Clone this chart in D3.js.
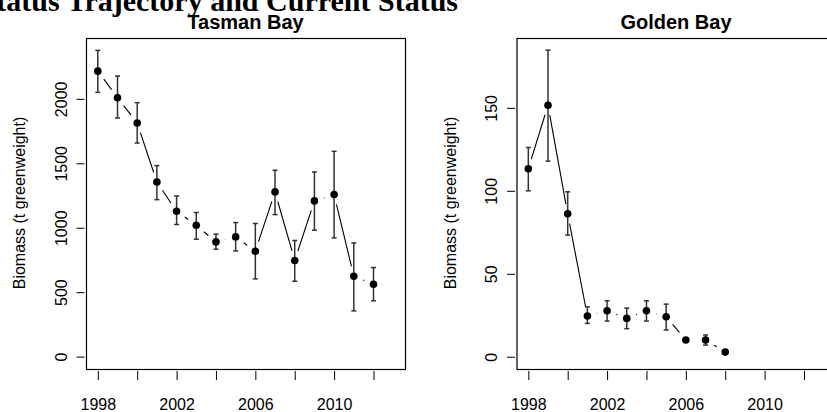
<!DOCTYPE html>
<style>
    body{
        margin: 0;
        background-color: white;
    }
    svg{
        display: block;
        font-family: "Liberation Sans", Arial, sans-serif;
    }
    .main-title{
        font-family: "Liberation Serif", "Times New Roman", serif;
        font-weight: bold;
        font-size: 30px;
    }
    .panel-title{
        font-weight: bold;
        font-size: 20px;
    }
    .axis text{
        font-family: "Liberation Sans", Arial, sans-serif;
        font-size: 16px;
        fill: black;
    }
    .axis line{
        stroke: black;
    }
    .ylab{
        font-size: 16px;
    }
</style>

<body>
    <svg width="827" height="412"></svg>

    <script src="https://d3js.org/d3.v7.min.js"></script>

    <script>
        // Tasman Bay, estimated biomass with lower / upper error limits
        var tasmanYears = [1998, 1999, 2000, 2001, 2002, 2003, 2004, 2005, 2006, 2007, 2008, 2009, 2010, 2011, 2012];
        var tasmanBiomass = [2215, 2009, 1812, 1355, 1128, 1019, 890, 929, 818, 1278, 746, 1208, 1257, 624, 562];
        var tasmanLower = [2050, 1851, 1657, 1218, 1025, 911, 833, 820, 603, 1102, 585, 981, 921, 355, 433];
        var tasmanUpper = [2376, 2177, 1970, 1482, 1247, 1118, 950, 1040, 1033, 1446, 901, 1433, 1593, 882, 691];

        // Golden Bay
        var goldenYears = [1998, 1999, 2000, 2001, 2002, 2003, 2004, 2005, 2006, 2007, 2008];
        var goldenBiomass = [113.3, 151.6, 86.1, 24.5, 27.7, 23.1, 27.7, 24.1, 10.1, 10.1, 2.8];
        var goldenLower = [100, 117.9, 73.3, 20.1, 21.5, 16.9, 21.5, 16.1, 9.6, 7.0, 2.3];
        var goldenUpper = [126.1, 184.8, 99.4, 30.1, 33.7, 29.3, 33.7, 31.7, 10.6, 13.1, 3.3];

        var xTicks = [1998, 2000, 2002, 2004, 2006, 2008, 2010, 2012];
        var xLabels = [1998, 2002, 2006, 2010];
        var tasmanYTicks = [0, 500, 1000, 1500, 2000];
        var goldenYTicks = [0, 50, 100, 150];

        var svg = d3.select("svg");

        svg.append("text")
            .attr("class", "main-title")
            .attr("x", 458)
            .attr("y", 11)
            .attr("text-anchor", "end")
            .text("Status Trajectory and Current Status");

        function drawPanel(opts){
            var x = d3.scaleLinear()
                .domain([1997.4, 2013.6])
                .range([opts.left, opts.right]);
            var y = d3.scaleLinear()
                .domain(opts.yDomain)
                .range([369, 38]);

            var g = svg.append("g");

            // box
            g.append("rect")
                .attr("x", opts.left + 0.5)
                .attr("y", 38.5)
                .attr("width", opts.right - opts.left)
                .attr("height", 331)
                .attr("fill", "none")
                .attr("stroke", "black")
                .attr("stroke-width", 1.2);

            g.append("text")
                .attr("class", "panel-title")
                .attr("x", (opts.left + opts.right) / 2)
                .attr("y", 29)
                .attr("text-anchor", "middle")
                .text(opts.title);

            // x axis (ticks every 2 years, labels only where R had room)
            var gx = g.append("g")
                .attr("class", "axis")
                .attr("transform", "translate(0,371)")
                .call(d3.axisBottom(x)
                    .tickValues(xTicks)
                    .tickSize(9)
                    .tickSizeOuter(0)
                    .tickFormat(function(d){ return xLabels.indexOf(d) >= 0 ? d : ""; }));
            gx.select(".domain").remove();
            gx.selectAll("text").attr("y", 39).attr("dy", null);

            // y axis, labels rotated like R default
            var gy = g.append("g")
                .attr("class", "axis")
                .attr("transform", "translate(" + (opts.left - 1.5) + ",0)")
                .call(d3.axisLeft(y)
                    .tickValues(opts.yTicks)
                    .tickFormat(d3.format("d"))
                    .tickSize(8)
                    .tickSizeOuter(0));
            gy.select(".domain").remove();
            gy.selectAll("text")
                .attr("x", 0)
                .attr("y", -18)
                .attr("dy", null)
                .attr("text-anchor", "middle")
                .attr("transform", "rotate(-90)");

            g.append("text")
                .attr("class", "ylab")
                .attr("transform", "translate(" + (opts.left - 61) + ",203) rotate(-90)")
                .attr("text-anchor", "middle")
                .text("Biomass (t greenweight)");

            var pts = opts.years.map(function(d, i){
                return {year: d, v: opts.biomass[i], lo: opts.lower[i], hi: opts.upper[i]};
            });

            // type = "b" lines: segments stop short of the points
            var gap = 10;
            var segs = [];
            for (var i = 1; i < pts.length; i++){
                var x0 = x(pts[i-1].year), y0 = y(pts[i-1].v);
                var x1 = x(pts[i].year), y1 = y(pts[i].v);
                var len = Math.sqrt((x1-x0)*(x1-x0) + (y1-y0)*(y1-y0));
                if (len <= 2 * gap) continue;
                var ux = (x1-x0)/len, uy = (y1-y0)/len;
                segs.push([x0 + ux*gap, y0 + uy*gap, x1 - ux*gap, y1 - uy*gap]);
            }
            g.selectAll(".seg")
                .data(segs)
                .enter().append("line")
                .attr("class", "seg")
                .attr("x1", function(d){ return d[0]; })
                .attr("y1", function(d){ return d[1]; })
                .attr("x2", function(d){ return d[2]; })
                .attr("y2", function(d){ return d[3]; })
                .attr("stroke", "black")
                .attr("stroke-width", 1.1);

            // error bars
            var eb = g.selectAll(".eb")
                .data(pts)
                .enter().append("g")
                .attr("class", "eb")
                .attr("stroke", "#333")
                .attr("stroke-width", 1.5);
            eb.append("line")
                .attr("x1", function(d){ return x(d.year); })
                .attr("x2", function(d){ return x(d.year); })
                .attr("y1", function(d){ return y(d.lo); })
                .attr("y2", function(d){ return y(d.hi); });
            eb.append("line")
                .attr("x1", function(d){ return x(d.year) - 2.5; })
                .attr("x2", function(d){ return x(d.year) + 2.5; })
                .attr("y1", function(d){ return y(d.lo); })
                .attr("y2", function(d){ return y(d.lo); });
            eb.append("line")
                .attr("x1", function(d){ return x(d.year) - 2.5; })
                .attr("x2", function(d){ return x(d.year) + 2.5; })
                .attr("y1", function(d){ return y(d.hi); })
                .attr("y2", function(d){ return y(d.hi); });

            g.selectAll(".pt")
                .data(pts)
                .enter().append("circle")
                .attr("class", "pt")
                .attr("cx", function(d){ return x(d.year); })
                .attr("cy", function(d){ return y(d.v); })
                .attr("r", 3.8)
                .attr("fill", "black");
        }

        drawPanel({
            title: "Tasman Bay",
            left: 86, right: 405,
            yDomain: [-96, 2472],
            yTicks: tasmanYTicks,
            years: tasmanYears, biomass: tasmanBiomass, lower: tasmanLower, upper: tasmanUpper
        });

        drawPanel({
            title: "Golden Bay",
            left: 516.5, right: 835.5,
            yDomain: [-7.4, 192.1],
            yTicks: goldenYTicks,
            years: goldenYears, biomass: goldenBiomass, lower: goldenLower, upper: goldenUpper
        });
    </script>
</body>
